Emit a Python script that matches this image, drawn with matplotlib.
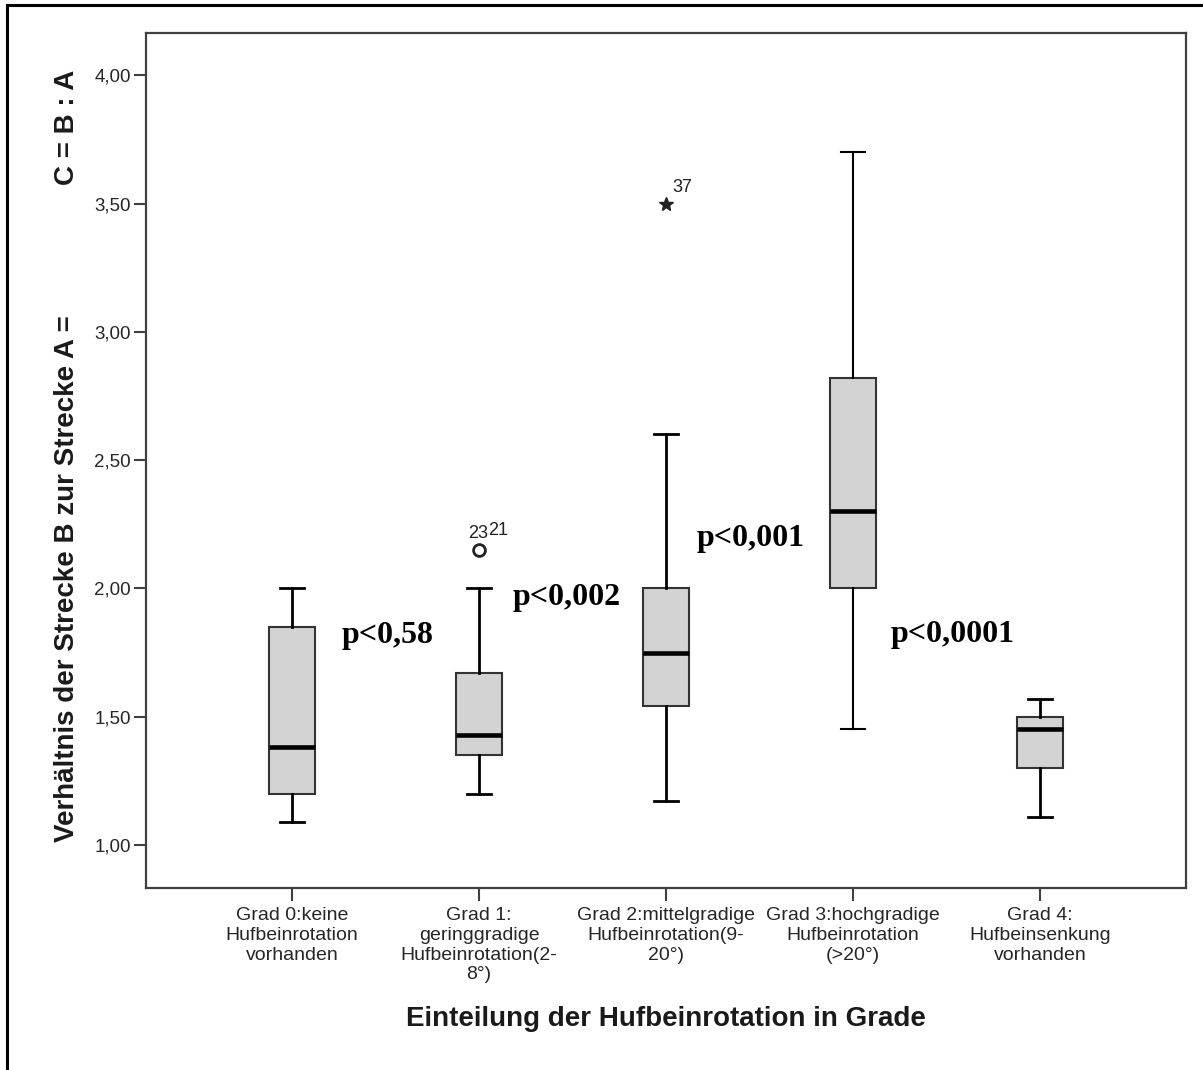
import matplotlib
matplotlib.use("Agg")
import matplotlib.pyplot as plt
from matplotlib.patches import Rectangle

# ---------------- data ----------------
categories = [
    "Grad 0:keine\nHufbeinrotation\nvorhanden",
    "Grad 1:\ngeringgradige\nHufbeinrotation(2-\n8°)",
    "Grad 2:mittelgradige\nHufbeinrotation(9-\n20°)",
    "Grad 3:hochgradige\nHufbeinrotation\n(>20°)",
    "Grad 4:\nHufbeinsenkung\nvorhanden",
]
whisker_low = [1.09, 1.20, 1.17, 1.45, 1.11]
q1 = [1.20, 1.35, 1.54, 2.00, 1.30]
median = [1.38, 1.43, 1.75, 2.30, 1.45]
q3 = [1.85, 1.67, 2.00, 2.82, 1.50]
whisker_high = [2.00, 2.00, 2.60, 3.70, 1.57]

outlier_cat = [1]
outlier_val = [2.15]
outlier_ids = [("23", "21")]

extreme_cat = [2]
extreme_val = [3.50]
extreme_ids = ["37"]

p_labels = ["p<0,58", "p<0,002", "p<0,001", "p<0,0001"]
p_x = [0.267, 1.182, 2.165, 3.203]
p_y = [1.787, 1.935, 2.165, 1.791]

yticks = [1.0, 1.5, 2.0, 2.5, 3.0, 3.5, 4.0]
ytick_labels = ["1,00", "1,50", "2,00", "2,50", "3,00", "3,50", "4,00"]

xlabel = "Einteilung der Hufbeinrotation in Grade"
ylabel_main = "Verhältnis der Strecke B zur Strecke A ="
ylabel_extra = "C = B : A"

# ---------------- figure ----------------
W, H = 1203, 1070
fig = plt.figure(figsize=(W / 100, H / 100), dpi=100)
fig.patch.set_facecolor("white")

sans = ["Liberation Sans", "DejaVu Sans"]
serif = ["Liberation Serif", "DejaVu Serif"]

ax_l, ax_r, ax_t, ax_b = 146, 1186, 33, 888
ax = fig.add_axes([ax_l / W, (H - ax_b) / H, (ax_r - ax_l) / W, (ax_b - ax_t) / H])

stats = []
for i in range(len(categories)):
    stats.append(dict(med=median[i], q1=q1[i], q3=q3[i],
                      whislo=whisker_low[i], whishi=whisker_high[i], fliers=[]))

positions = list(range(len(categories)))
res = ax.bxp(stats, positions=positions, widths=0.25, capwidths=0.13,
             patch_artist=True, showfliers=False,
             boxprops=dict(facecolor="#d3d3d3", edgecolor="#333333", linewidth=1.5),
             medianprops=dict(color="black", linewidth=3.3, solid_capstyle="butt"),
             whiskerprops=dict(color="black", linewidth=2.0),
             capprops=dict(color="black", linewidth=2.0))
# thinner whiskers for Grad 3
for ln in res["whiskers"][6:8] + res["caps"][6:8]:
    ln.set_linewidth(1.5)

# outliers (circles)
for c, v, ids in zip(outlier_cat, outlier_val, outlier_ids):
    ax.plot([c], [v], marker="o", ms=8.5, mfc="none", mec="#222222", mew=2.0, ls="none")
    ax.annotate(ids[0], (c, v), xytext=(-11, 12), textcoords="offset pixels",
                fontsize=13, family=sans, color="#222222", ha="left", va="baseline")
    ax.annotate(ids[1], (c, v), xytext=(9, 15), textcoords="offset pixels",
                fontsize=13, family=sans, color="#222222", ha="left", va="baseline")

# extremes (stars)
for c, v, lab in zip(extreme_cat, extreme_val, extreme_ids):
    ax.plot([c], [v], marker="*", ms=10, color="#222222", ls="none")
    ax.annotate(lab, (c, v), xytext=(6, 12), textcoords="offset pixels",
                fontsize=13, family=sans, color="#222222", ha="left", va="baseline")

# p-values
for x, y, t in zip(p_x, p_y, p_labels):
    ax.text(x, y, t, fontsize=23, family=serif, fontweight="bold", color="black",
            ha="left", va="baseline")

ax.set_xlim(-0.781, 4.781)
ax.set_ylim(0.832, 4.165)
ax.set_xticks(positions)
ax.set_xticklabels(categories, fontsize=14, family=sans, color="#262626",
                   linespacing=1.2)
ax.set_yticks(yticks)
ax.set_yticklabels(ytick_labels, fontsize=13.5, family=sans, color="#262626")
ax.tick_params(axis="x", length=9, width=1.5, color="#404040", pad=5)
ax.tick_params(axis="y", length=9, width=1.5, color="#404040", pad=2)
for s in ax.spines.values():
    s.set_color("#404040")
    s.set_linewidth(1.6)

ax.set_xlabel(xlabel, fontsize=20, family=sans, fontweight="bold", color="#1a1a1a")
ax.xaxis.set_label_coords(0.5, (ax_b - 1019) / (ax_b - ax_t))
ax.xaxis.label.set_va("center")

fig.text(67 / W, (H - 842) / H, ylabel_main, rotation=90, fontsize=20,
         family=sans, fontweight="bold", color="#1a1a1a", ha="center", va="bottom")
fig.text(67 / W, (H - 185) / H, ylabel_extra, rotation=90, fontsize=20,
         family=sans, fontweight="bold", color="#1a1a1a", ha="center", va="bottom")

# outer frame (only left and top visible in the crop)
fig.add_artist(Rectangle((7.3 / W, -0.1), 1.2, 1.1 - 5.3 / H,
                         transform=fig.transFigure, fill=False,
                         edgecolor="black", linewidth=2.2))

fig.savefig("out.png", dpi=100, facecolor="white")
